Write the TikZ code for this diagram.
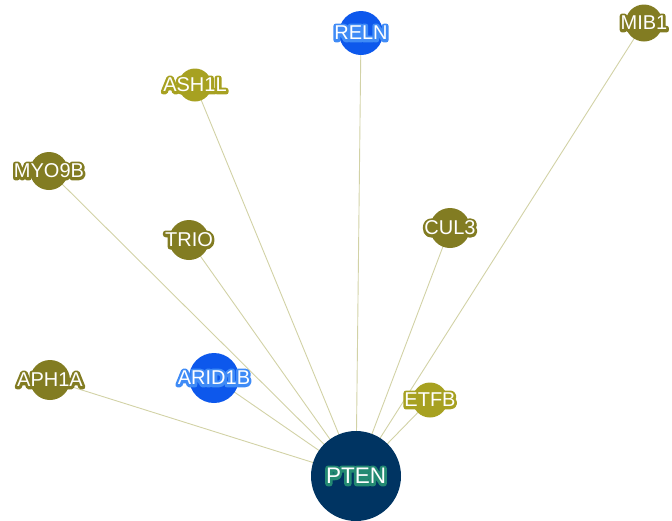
\documentclass[tikz,border=0pt]{standalone}
\usepackage{fontspec}
\setmainfont{Liberation Sans}
\usetikzlibrary{backgrounds}
\definecolor{oliveDark}{HTML}{827C22}
\definecolor{oliveLight}{HTML}{A7A121}
\definecolor{geneBlue}{HTML}{0D58EC}
\definecolor{haloBlue}{HTML}{3F8BF6}
\definecolor{hubNavy}{HTML}{003462}
\definecolor{haloTeal}{HTML}{238A72}
\definecolor{edgeOlive}{HTML}{D2D2A6}
% white text with a stroked halo underneath
\newcommand{\genetext}[2]{\makebox[0pt]{\rlap{\color{#1}%
  \special{pdf:literal direct 1 Tr 5.2 w 1 j}#2\special{pdf:literal direct 0 Tr}}#2}}
\tikzset{
  {gene/.style} ={circle, fill=#1, inner sep=0, text=white,
                  font=\fontsize{20}{20}\selectfont, minimum size=38pt},
  {hub/.style} ={gene=hubNavy, minimum size=90pt,
                 font=\fontsize{22.5}{22.5}\selectfont},
  {link/.style} ={draw=edgeOlive, line width=0.9pt},
}
\begin{document}
\begin{tikzpicture}[x=1pt,y=-1pt]
\useasboundingbox (0,0) rectangle (672,520);

\node[hub] (pten) at (356,476) {\genetext{haloTeal}{PTEN}};
\node[gene=geneBlue, minimum size=44pt] (reln) at (361,33) {\genetext{haloBlue}{RELN}};
\node[gene=oliveDark, minimum size=37pt] (mib1) at (644,23) {\genetext{oliveDark}{MIB1}};
\node[gene=oliveLight, minimum size=33pt] (ash1l) at (195,85) {\genetext{oliveLight}{ASH1L}};
\node[gene=oliveDark] (myo9b) at (49,171) {\genetext{oliveDark}{MYO9B}};
\node[gene=oliveDark, minimum size=40pt] (trio) at (189,240) {\genetext{oliveDark}{TRIO}};
\node[gene=oliveDark, minimum size=40pt] (cul3) at (450,228) {\genetext{oliveDark}{CUL3}};
\node[gene=oliveDark, minimum size=40pt] (aph1a) at (50,380) {\genetext{oliveDark}{APH1A}};
\node[gene=geneBlue, minimum size=50pt] (arid1b) at (214,378) {\genetext{haloBlue}{ARID1B}};
\node[gene=oliveLight, minimum size=35pt] (etfb) at (430,400) {\genetext{oliveLight}{ETFB}};

\begin{scope}[on background layer]
\foreach \g in {reln,mib1,ash1l,myo9b,trio,cul3,aph1a,arid1b,etfb}
  \draw[link] (pten.center) -- (\g.center);
\end{scope}
\end{tikzpicture}
\end{document}
